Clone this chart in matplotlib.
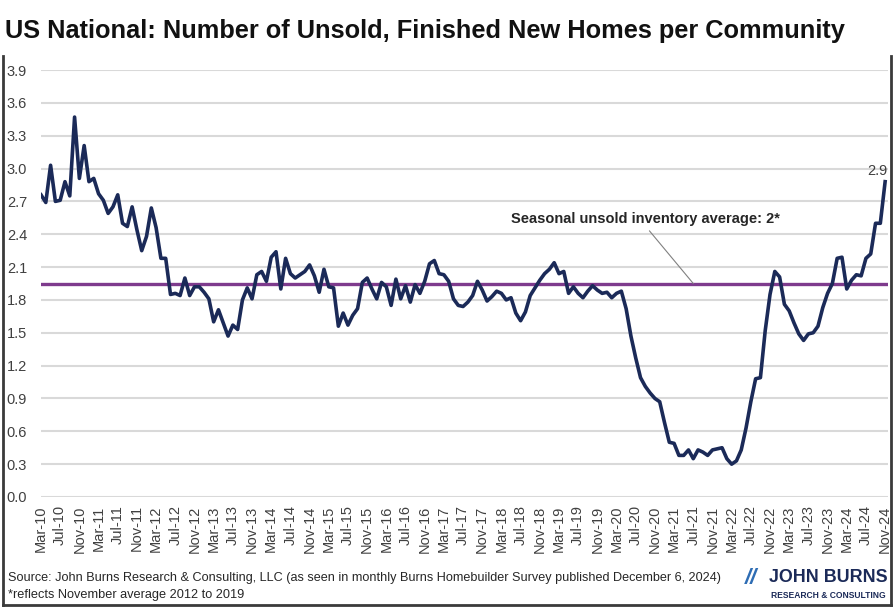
import numpy as np
import matplotlib
matplotlib.use("Agg")
import matplotlib.pyplot as plt
from matplotlib.lines import Line2D

plt.rcParams["font.family"] = ["Liberation Sans", "DejaVu Sans"]

# unsold finished new homes per community, monthly Mar-2010 .. Nov-2024
v2010 = [2.76, 2.69, 3.03, 2.70, 2.71, 2.88, 2.75, 3.47, 2.91, 3.21]
v2011 = [2.88, 2.91, 2.77, 2.71, 2.59, 2.65, 2.76, 2.50, 2.47, 2.65, 2.44, 2.25]
v2012 = [2.38, 2.64, 2.46, 2.18, 2.18, 1.85, 1.86, 1.84, 2.00, 1.84, 1.92, 1.92]
v2013 = [1.87, 1.81, 1.60, 1.71, 1.59, 1.47, 1.57, 1.53, 1.80, 1.91, 1.81, 2.03]
v2014 = [2.06, 1.97, 2.19, 2.24, 1.90, 2.18, 2.04, 2.00, 2.03, 2.06, 2.12, 2.02]
v2015 = [1.87, 2.08, 1.92, 1.91, 1.56, 1.68, 1.57, 1.66, 1.72, 1.96, 2.00, 1.90]
v2016 = [1.81, 1.96, 1.92, 1.75, 1.99, 1.81, 1.93, 1.78, 1.94, 1.86, 1.97, 2.13]
v2017 = [2.16, 2.04, 2.03, 1.97, 1.81, 1.75, 1.74, 1.78, 1.84, 1.97, 1.89, 1.79]
v2018 = [1.83, 1.88, 1.86, 1.80, 1.82, 1.68, 1.61, 1.69, 1.84, 1.91, 1.98, 2.04]
v2019 = [2.08, 2.14, 2.04, 2.06, 1.86, 1.92, 1.86, 1.82, 1.88, 1.93, 1.89, 1.86]
v2020 = [1.87, 1.82, 1.86, 1.88, 1.72, 1.47, 1.27, 1.09, 1.01, 0.95, 0.90, 0.87]
v2021 = [0.68, 0.50, 0.49, 0.38, 0.38, 0.43, 0.35, 0.43, 0.41, 0.38, 0.43, 0.44]
v2022 = [0.45, 0.35, 0.30, 0.33, 0.43, 0.63, 0.87, 1.08, 1.09, 1.52, 1.85, 2.06]
v2023 = [2.01, 1.76, 1.70, 1.59, 1.49, 1.43, 1.49, 1.50, 1.56, 1.73, 1.86, 1.95]
v2024 = [2.18, 2.19, 1.90, 1.98, 2.03, 2.02, 2.18, 2.22, 2.50, 2.50, 2.88]

seasonal_avg = 1.95
avg_label = "Seasonal unsold inventory average: 2*"
last_label = "2.9"
month_names = ["Jan", "Feb", "Mar", "Apr", "May", "Jun",
               "Jul", "Aug", "Sep", "Oct", "Nov", "Dec"]

title = "US National: Number of Unsold, Finished New Homes per Community"
source = ("Source: John Burns Research & Consulting, LLC (as seen in monthly "
          "Burns Homebuilder Survey published December 6, 2024)")
note = "*reflects November average 2012 to 2019"

values = (v2010 + v2011 + v2012 + v2013 + v2014 + v2015 + v2016 + v2017
          + v2018 + v2019 + v2020 + v2021 + v2022 + v2023 + v2024)
labels = []
for k in range(len(values)):
    m = (2 + k) % 12
    yr = 2010 + (2 + k) // 12
    labels.append(f"{month_names[m]}-{yr % 100:02d}")

x = np.arange(len(values))

fig = plt.figure(figsize=(8.94, 6.09), dpi=100)
ax = fig.add_axes([41/894, 112/609, 847/894, 427/609])

ax.plot(x, values, color="#1b2a58", lw=2.6, zorder=3)
ax.axhline(seasonal_avg, color="#7e3b8d", lw=2.4, zorder=2)

ax.set_xlim(0, 176.6)
ax.set_ylim(0, 3.9)
ax.set_yticks(np.round(np.arange(0, 3.91, 0.3), 1))
ax.yaxis.set_major_formatter(matplotlib.ticker.FormatStrFormatter("%.1f"))
ax.set_xticks(x[::4])
ax.set_xticklabels(labels[::4], rotation=90)
ax.tick_params(length=0, labelsize=10.5, colors="#404040")
ax.tick_params(axis="y", pad=10)
ax.tick_params(axis="x", pad=6)
ax.yaxis.grid(True, color="#d9d9d9", lw=1.5)
ax.set_axisbelow(True)
for s in ax.spines.values():
    s.set_visible(False)

ax.annotate(avg_label, xy=(136, seasonal_avg), xytext=(126, 2.54),
            ha="center", va="center", fontsize=10.5, fontweight="bold",
            color="#262626",
            arrowprops=dict(arrowstyle="-", color="#808080", lw=0.8,
                            shrinkA=2, shrinkB=0, relpos=(0.5, 0)))
ax.text(x[-1] + 0.4, values[-1] + 0.03, last_label, ha="right", va="bottom",
        fontsize=10.5, color="#404040")

t_title = fig.text(5/894, 1 - 31/609, title, fontsize=21, fontweight="bold",
                   va="center", color="#111111")
t_src = fig.text(8/894, 1 - 578/609, source, fontsize=9.5,
                 va="center", color="#262626")
t_note = fig.text(8/894, 1 - 595/609, note, fontsize=9.5,
                  va="center", color="#262626")

# logo
fig.text(745/894, 1 - 579/609, "//", fontsize=16, fontweight="bold",
         style="italic", color="#2e6db4", va="center")
t_logo = fig.text(769/894, 1 - 578/609, "JOHN BURNS", fontsize=16,
                  fontweight="bold", color="#1b2a58", va="center")
t_sub = fig.text(771/894, 1 - 596/609, "RESEARCH & CONSULTING",
                 fontsize=5, fontweight="bold", color="#1b2a58", va="center")

# shrink texts to the widths they take in the reference
renderer = fig.canvas.get_renderer()
for t, w in [(t_title, 838), (t_src, 712), (t_note, 236), (t_logo, 119), (t_sub, 116)]:
    cur = t.get_window_extent(renderer).width
    t.set_fontsize(t.get_fontsize() * w / cur)

# frame
for xs, ys in [([3/894, 3/894], [4/609, 553/609]),
               ([891/894, 891/894], [4/609, 553/609]),
               ([3/894, 891/894], [4/609, 4/609])]:
    fig.add_artist(Line2D(xs, ys, color="#3a3a3a", lw=2))

fig.savefig("out.png", dpi=100)
